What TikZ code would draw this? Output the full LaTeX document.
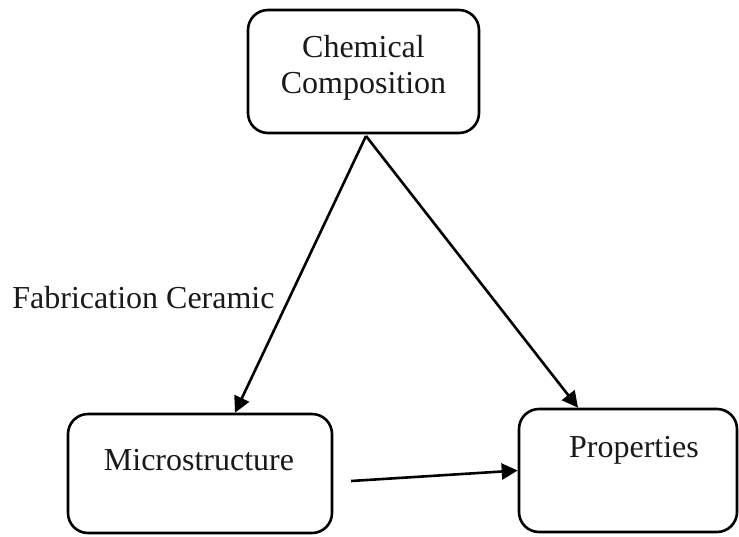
\documentclass[tikz,border=0pt]{standalone}
\usepackage{fontspec}
\setmainfont{Liberation Serif}
\usetikzlibrary{arrows.meta}
\begin{document}
\begin{tikzpicture}[x=0.5pt,y=-0.5pt,
  box/.style={draw=black,line width=1.3pt,rounded corners=10pt,fill=white,inner sep=0pt},
  lbl/.style={font=\fontsize{16}{18}\selectfont,inner sep=0pt,text=black!90},
  arr/.style={draw=black,line width=1.3pt,-{Triangle[length=8pt,width=8pt]}}]
\useasboundingbox (0,0) rectangle (739,536);
\node[box,minimum width=115.5pt,minimum height=61.5pt] (chem) at (363.5,71.5) {};
\node[box,minimum width=132pt,minimum height=59.5pt] (micro) at (200,473.5) {};
\node[box,minimum width=109pt,minimum height=61.5pt] (props) at (628,470.5) {};
\node[lbl,anchor=base] (chemA) at (363.5,57) {Chemical};
\node[lbl,anchor=base] (chemB) at (363.5,93) {Composition};
\node[lbl,anchor=base] (microt) at (199,470) {Microstructure};
\node[lbl,anchor=base] (propst) at (634,457) {Properties};
\node[lbl,anchor=base west] (fab) at (12,308) {Fabrication Ceramic};
\coordinate (cs) at (366,136);
\coordinate (ms) at (351,481);
\draw[arr] (cs) -- ([xshift=17.5pt]micro.north);
\draw[arr] (cs) -- ([xshift=-25pt]props.north);
\draw[arr] (ms) -- (props.west);
\end{tikzpicture}
\end{document}
